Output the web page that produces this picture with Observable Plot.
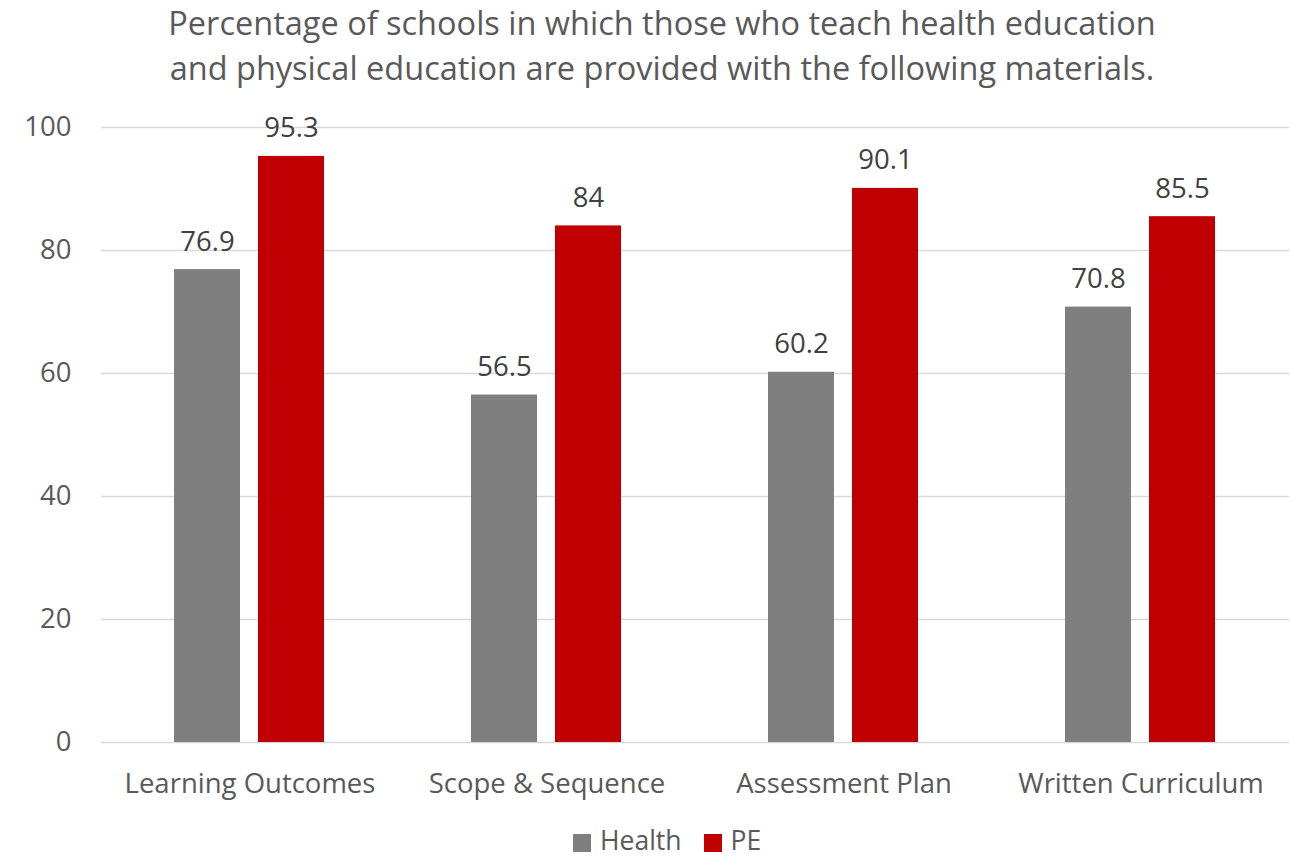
<!DOCTYPE html>
<html>
<head>
<meta charset="utf-8">
<script src="https://cdn.jsdelivr.net/npm/d3@7"></script>
<script src="https://cdn.jsdelivr.net/npm/@observablehq/plot@0.6"></script>
<style>
  html, body { margin: 0; padding: 0; background: #fff; }
  body { width: 1291px; height: 858px; position: relative; overflow: hidden; font-family: "Open Sans", sans-serif; }
  #title { position: absolute; left: 0; top: 0px; width: 1324px; text-align: center; color: #595959; font-size: 32.5px; line-height: 45px; white-space: nowrap; }
  #chart { position: absolute; left: 0; top: 90px; }
  #legend { position: absolute; left: 573px; top: 828px; display: flex; align-items: center; color: #595959; font-size: 26.5px; line-height: 24px; white-space: nowrap; }
  .item { display: flex; align-items: center; }
  .item + .item { margin-left: 22px; }
  .sw { width: 18px; height: 18px; margin-right: 9px; position: relative; top: 3px; }
</style>
</head>
<body>
<div id="title">Percentage of schools in which those who teach health education<br>and physical education are provided with the following materials.</div>
<div id="chart"></div>
<div id="legend"></div>
<script>
const categories = ["Learning Outcomes", "Scope & Sequence", "Assessment Plan", "Written Curriculum"];
const series = ["Health", "PE"];
const healthValues = [76.9, 56.5, 60.2, 70.8];
const peValues = [95.3, 84, 90.1, 85.5];
const yTicks = [0, 20, 40, 60, 80, 100];
const colors = ["#7f7f7f", "#c00000"];

const data = categories.flatMap((c, i) => [
  {category: c, series: "Health", value: healthValues[i]},
  {category: c, series: "PE", value: peValues[i]}
]);

const chart = Plot.plot({
  width: 1291,
  height: 720,
  marginTop: 37,
  marginBottom: 68,
  marginLeft: 99,
  marginRight: 1,
  style: {fontFamily: "Open Sans, sans-serif", background: "white"},
  fx: {domain: categories, padding: 0, label: null},
  x: {domain: series, paddingInner: 0.2118, paddingOuter: 0.859, axis: null},
  y: {domain: [0, 100], label: null},
  color: {domain: series, range: colors},
  marks: [
    Plot.gridY(yTicks, {stroke: "#d9d9d9", strokeOpacity: 1, strokeWidth: 1.5}),
    Plot.barY(data, {fx: "category", x: "series", y: "value", fill: "series"}),
    Plot.text(data, {fx: "category", x: "series", y: "value", text: d => String(d.value), lineAnchor: "bottom", dy: -19, fill: "#404040", fontSize: 27.5}),
    Plot.axisY(yTicks, {tickSize: 0, tickPadding: 30, fontSize: 27.5, fill: "#595959", label: null}),
    Plot.axisFx({anchor: "bottom", tickSize: 0, tickPadding: 31, fontSize: 27.5, fill: "#595959", label: null})
  ]
});
document.getElementById("chart").appendChild(chart);

const legend = document.getElementById("legend");
series.forEach((s, i) => {
  const item = document.createElement("div");
  item.className = "item";
  const sw = document.createElement("div");
  sw.className = "sw";
  sw.style.background = colors[i];
  const lab = document.createElement("span");
  lab.textContent = s;
  item.appendChild(sw);
  item.appendChild(lab);
  legend.appendChild(item);
});
</script>
</body>
</html>
